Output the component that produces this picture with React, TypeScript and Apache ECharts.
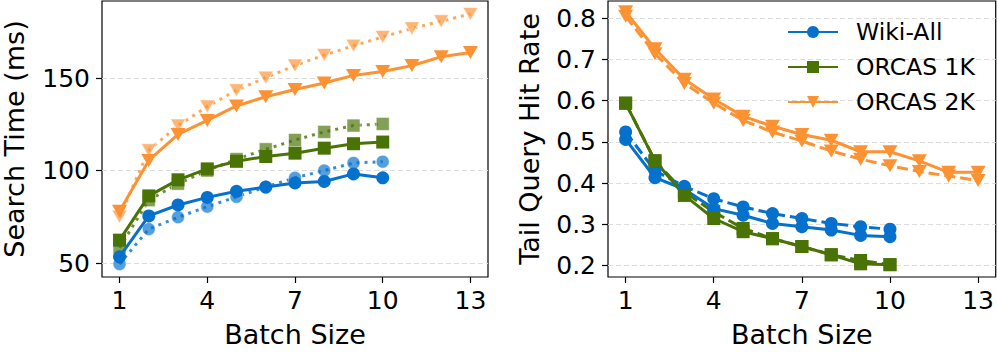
import { useEffect, useRef } from "react";
import * as echarts from "echarts";

const batch13 = [1, 2, 3, 4, 5, 6, 7, 8, 9, 10, 11, 12, 13];
const batch10 = [1, 2, 3, 4, 5, 6, 7, 8, 9, 10];
const xTicks = [1, 4, 7, 10, 13];
const leftYTicks = [50, 100, 150];
const rightYTicks = [0.2, 0.3, 0.4, 0.5, 0.6, 0.7, 0.8];

// Search time (ms)
const searchWiki = [53.4, 75.5, 81.4, 85.5, 88.8, 91.1, 93.3, 94.1, 98.2, 96.1];
const searchWikiAlt = [49.5, 68.4, 74.8, 80.5, 85.8, 91.1, 96.1, 100, 104.1, 104.8];
const searchO1 = [62.4, 86.3, 95.0, 100.9, 105.0, 107.6, 109.4, 112.1, 114.5, 115.4];
const searchO1Alt = [58.3, 84.0, 92.9, 100.0, 106.2, 111.5, 116.5, 120.9, 124.3, 125.2];
const searchO2 = [78.0, 105.5, 119.5, 127.1, 134.9, 139.9, 143.8, 147.3, 151.4, 153.5, 156.7, 161.5, 163.8];
const searchO2Alt = [75.0, 111.0, 124.3, 134.6, 143.4, 150.2, 156.7, 162.4, 167.4, 172.2, 176.8, 180.7, 184.6];

// Tail query hit rate
const hitWiki = [0.506, 0.413, 0.385, 0.338, 0.322, 0.302, 0.294, 0.286, 0.273, 0.27];
const hitWikiAlt = [0.524, 0.43, 0.392, 0.362, 0.342, 0.326, 0.314, 0.302, 0.294, 0.288];
const hitO1 = [0.594, 0.454, 0.37, 0.314, 0.282, 0.265, 0.246, 0.226, 0.204, 0.202];
const hitO1Alt = [0.594, 0.454, 0.378, 0.33, 0.29, 0.265, 0.246, 0.226, 0.212, 0.202];
const hitO2 = [0.816, 0.726, 0.652, 0.604, 0.562, 0.538, 0.518, 0.504, 0.476, 0.476, 0.454, 0.426, 0.426];
const hitO2Alt = [0.805, 0.714, 0.642, 0.594, 0.552, 0.524, 0.502, 0.478, 0.458, 0.442, 0.428, 0.417, 0.406];

const names = ["Wiki-All", "ORCAS 1K", "ORCAS 2K"];

const BLUE = "#0571cc";
const GREEN = "#4a7306";
const ORANGE = "#fd9233";
const FONT = "DejaVu Sans";
const TRI = "path://M0,0L20,0L10,18Z";
const CIRC = 13;
const SQ = 13;
const TRI_SIZE = [15, 13];

const zip = (xs: number[], ys: number[]) => xs.map((x, i) => [x, ys[i]]);

function mk(
  name: string,
  xs: number[],
  ys: number[],
  color: string,
  symbol: string,
  size: number | number[],
  idx: number,
  dash: "solid" | "dotted" | "dashed",
  faded: boolean
) {
  return {
    type: "line",
    name,
    xAxisIndex: idx,
    yAxisIndex: idx,
    data: zip(xs, ys),
    symbol,
    symbolSize: size,
    symbolKeepAspect: false,
    showSymbol: true,
    z: faded ? 2 : 3,
    lineStyle: {
      color,
      width: 3,
      type: dash === "dotted" ? [3, 5] : dash === "dashed" ? [11, 5] : "solid",
      opacity: faded ? 0.8 : 1,
    },
    itemStyle: faded
      ? { color, opacity: 0.68, borderColor: "rgba(255,255,255,0.8)", borderWidth: 1 }
      : { color },
    emphasis: { disabled: true },
  };
}

function xAxis(idx: number) {
  return {
    type: "value",
    gridIndex: idx,
    min: 0.4,
    max: 13.6,
    name: "Batch Size",
    nameLocation: "middle",
    nameGap: 44,
    nameTextStyle: { fontSize: 27, color: "#000", fontFamily: FONT },
    axisLine: { show: false },
    axisTick: { show: true, length: 6, lineStyle: { color: "#000", width: 1.2 }, customValues: xTicks },
    axisLabel: { fontSize: 25, color: "#000", fontFamily: FONT, margin: 11, customValues: xTicks },
    splitLine: { show: false },
  };
}

function yAxis(idx: number, min: number, max: number, ticks: number[], name: string, gap: number, fmt: (v: number) => string) {
  return {
    type: "value",
    gridIndex: idx,
    min,
    max,
    name,
    nameLocation: "middle",
    nameGap: gap,
    nameTextStyle: { fontSize: 27, color: "#000", fontFamily: FONT },
    axisLine: { show: false },
    axisTick: { show: true, length: 6, lineStyle: { color: "#000", width: 1.2 }, customValues: ticks },
    axisLabel: { fontSize: 25, color: "#000", fontFamily: FONT, margin: 12, customValues: ticks, formatter: fmt },
    splitLine: { show: true, lineStyle: { color: "#dcdcdc", width: 1.2, type: [5, 3] } },
  };
}

export default function App() {
  const ref = useRef<HTMLDivElement>(null);
  useEffect(() => {
    document.body.style.margin = "0";
    const chart = echarts.init(ref.current!, null, { renderer: "svg" });
    const option = {
      animation: false,
      grid: [
        { left: 99, top: 1, width: 389, height: 278, show: true, borderColor: "#000", borderWidth: 1.2, backgroundColor: "transparent" },
        { left: 608, top: 1, width: 388, height: 278, show: true, borderColor: "#000", borderWidth: 1.2, backgroundColor: "transparent" },
      ],
      xAxis: [xAxis(0), xAxis(1)],
      yAxis: [
        yAxis(0, 42.5, 191.6, leftYTicks, "Search Time (ms)", 74, (v: number) => String(v)),
        yAxis(1, 0.172, 0.842, rightYTicks, "Tail Query Hit Rate", 65, (v: number) => v.toFixed(1)),
      ],
      legend: {
        data: names,
        orient: "vertical",
        left: 787,
        top: 20,
        itemWidth: 50,
        itemHeight: 15,
        itemGap: 11,
        padding: 0,
        selectedMode: false,
        textStyle: { fontSize: 23.5, color: "#000", fontFamily: FONT, lineHeight: 24, padding: [0, 0, 0, 13] },
      },
      series: [
        mk("Wiki-All alt", batch10, searchWikiAlt, BLUE, "circle", CIRC, 0, "dotted", true),
        mk("ORCAS 1K alt", batch10, searchO1Alt, GREEN, "rect", SQ, 0, "dotted", true),
        mk("ORCAS 2K alt", batch13, searchO2Alt, ORANGE, TRI, TRI_SIZE, 0, "dotted", true),
        mk("Wiki-All", batch10, searchWiki, BLUE, "circle", CIRC, 0, "solid", false),
        mk("ORCAS 1K", batch10, searchO1, GREEN, "rect", SQ, 0, "solid", false),
        mk("ORCAS 2K", batch13, searchO2, ORANGE, TRI, TRI_SIZE, 0, "solid", false),
        mk("Wiki-All h2", batch10, hitWikiAlt, BLUE, "circle", CIRC, 1, "dashed", false),
        mk("ORCAS 1K h2", batch10, hitO1Alt, GREEN, "rect", SQ, 1, "dashed", false),
        mk("ORCAS 2K h2", batch13, hitO2Alt, ORANGE, TRI, TRI_SIZE, 1, "dashed", false),
        mk("Wiki-All h", batch10, hitWiki, BLUE, "circle", CIRC, 1, "solid", false),
        mk("ORCAS 1K h", batch10, hitO1, GREEN, "rect", SQ, 1, "solid", false),
        mk("ORCAS 2K h", batch13, hitO2, ORANGE, TRI, TRI_SIZE, 1, "solid", false),
      ],
    };
    chart.setOption(option as any);
    return () => chart.dispose();
  }, []);
  return <div ref={ref} style={{ width: 997, height: 353 }} />;
}
